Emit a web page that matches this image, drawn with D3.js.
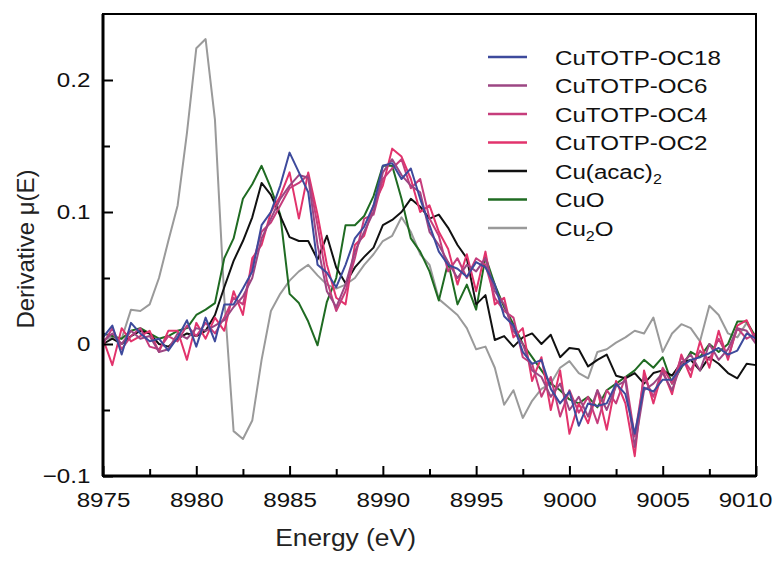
<!DOCTYPE html>
<html>
<head>
<meta charset="utf-8">
<script src="https://cdn.jsdelivr.net/npm/d3@7"></script>
<style>
  body { margin: 0; background: #fff; }
  svg { font-family: "Liberation Sans", Arial, sans-serif; }
  .axis path { display: none; }
  .axis line { stroke: #000; stroke-width: 2; }
  .axis text { font-size: 21px; fill: #111; }
  .axis-title { font-size: 24px; fill: #222; }
  .legend text { font-size: 21px; fill: #111; }
</style>
</head>
<body>
<svg id="chart"></svg>
<script>
// energy grid (eV), 0.5 eV step
const energy = d3.range(0, 71).map(i => 8975 + i * 0.5)

const cuTotpOc18 = [0.005, 0.014, -0.008, 0.016, 0.008, 0.002, 0.004, -0.005, 0.005, 0.018,
  -0.002, 0.02, 0.002, 0.03, 0.03, 0.042, 0.055, 0.09, 0.1, 0.12,
  0.145, 0.13, 0.115, 0.06, 0.054, 0.043, 0.06, 0.08, 0.089, 0.105,
  0.135, 0.137, 0.125, 0.133, 0.11, 0.09, 0.07, 0.06, 0.057, 0.051,
  0.062, 0.058, 0.045, 0.021, 0.014, -0.006, -0.015, -0.012, -0.034, -0.045,
  -0.036, -0.062, -0.045, -0.047, -0.045, -0.03, -0.038, -0.068, -0.033, -0.036,
  -0.027, -0.027, -0.017, -0.012, -0.01, -0.007, -0.003, -0.008, -0.005, 0.008, 0.004]

const cuTotpOc6 = [0.002, 0.008, 0.0, 0.01, 0.004, 0.006, -0.006, -0.004, 0.008, 0.004,
  0.012, 0.01, 0.014, 0.018, 0.028, 0.036, 0.05, 0.08, 0.095, 0.11,
  0.12, 0.128, 0.126, 0.075, 0.04, 0.028, 0.045, 0.07, 0.085, 0.1,
  0.13, 0.14, 0.128, 0.12, 0.115, 0.085, 0.075, 0.062, 0.05, 0.06,
  0.055, 0.065, 0.04, 0.03, 0.01, 0.0, -0.02, -0.025, -0.04, -0.03,
  -0.05, -0.04, -0.055, -0.035, -0.05, -0.032, -0.028, -0.078, -0.035, -0.03,
  -0.022, -0.035, -0.015, -0.008, -0.02, 0.0, -0.012, -0.004, 0.012, 0.01, 0.0]

const cuTotpOc4 = [0.0, 0.012, -0.004, 0.006, 0.012, -0.002, -0.004, 0.006, 0.002, 0.014,
  0.006, 0.016, 0.008, 0.02, 0.035, 0.03, 0.06, 0.085, 0.092, 0.105,
  0.118, 0.122, 0.128, 0.09, 0.048, 0.025, 0.04, 0.065, 0.095, 0.098,
  0.125, 0.133, 0.14, 0.118, 0.125, 0.095, 0.082, 0.055, 0.065, 0.05,
  0.065, 0.06, 0.035, 0.025, 0.02, -0.01, -0.015, -0.04, -0.025, -0.055,
  -0.035, -0.052, -0.04, -0.06, -0.035, -0.045, -0.025, -0.07, -0.025, -0.04,
  -0.018, -0.03, -0.01, -0.02, -0.005, -0.012, 0.004, -0.01, 0.012, 0.004, 0.008]

const cuTotpOc2 = [0.004, -0.016, 0.012, 0.002, 0.006, 0.01, -0.006, 0.01, 0.01, -0.012,
  0.016, 0.004, 0.02, 0.01, 0.04, 0.022, 0.065, 0.075, 0.1, 0.112,
  0.13, 0.095, 0.13, 0.098, 0.06, 0.035, 0.03, 0.075, 0.082, 0.105,
  0.12, 0.148, 0.142, 0.125, 0.1, 0.105, 0.085, 0.072, 0.045, 0.068,
  0.04, 0.07, 0.03, 0.035, 0.005, 0.012, -0.028, -0.01, -0.05, -0.02,
  -0.068, -0.045, -0.06, -0.035, -0.065, -0.028, -0.045, -0.085, -0.02, -0.045,
  -0.02, -0.038, -0.008, -0.025, 0.002, -0.018, 0.01, -0.012, 0.014, 0.018, 0.002]

const cuAcac2 = [0.0, 0.004, 0.0, 0.006, 0.01, 0.008, 0.0, -0.002, 0.004, 0.008,
  0.006, 0.01, 0.022, 0.043, 0.063, 0.078, 0.096, 0.122, 0.113, 0.097,
  0.081, 0.078, 0.078, 0.064, 0.082, 0.058, 0.046, 0.058, 0.066, 0.073,
  0.09, 0.094, 0.1, 0.11, 0.104, 0.095, 0.098, 0.088, 0.075, 0.065,
  0.03, 0.037, 0.003, 0.006, -0.002, 0.005, 0.008, 0.0, 0.007, -0.01,
  -0.003, -0.004, -0.017, -0.012, -0.008, -0.024, -0.026, -0.022, -0.03, -0.022,
  -0.02, -0.024, -0.014, -0.012, -0.02, -0.01, -0.015, -0.022, -0.026, -0.015, -0.016]

const cuO = [0.008, 0.006, 0.004, 0.01, 0.012, 0.008, 0.004, 0.006, 0.01, 0.012,
  0.022, 0.026, 0.031, 0.065, 0.08, 0.11, 0.121, 0.135, 0.118, 0.098,
  0.038, 0.031, 0.017, -0.001, 0.032, 0.05, 0.09, 0.09, 0.097, 0.112,
  0.135, 0.135, 0.11, 0.08, 0.07, 0.055, 0.033, 0.062, 0.03, 0.045,
  0.026, 0.066, 0.045, 0.028, 0.015, 0.0, -0.01, -0.02, -0.03, -0.035,
  -0.042, -0.045, -0.04, -0.048, -0.035, -0.03, -0.025, -0.02, -0.012, -0.018,
  -0.01, -0.03, -0.018, -0.006, -0.01, 0.0, -0.006, 0.0, 0.017, 0.017, 0.005]

const cu2O = [0.003, 0.005, 0.004, 0.026, 0.025, 0.03, 0.05, 0.078, 0.105, 0.16,
  0.224, 0.231, 0.17, 0.035, -0.066, -0.072, -0.058, -0.012, 0.025, 0.038,
  0.048, 0.055, 0.06, 0.052, 0.045, 0.042, 0.045, 0.05, 0.06, 0.068,
  0.078, 0.082, 0.096, 0.085, 0.068, 0.06, 0.034, 0.028, 0.022, 0.012,
  -0.004, -0.002, -0.018, -0.046, -0.035, -0.056, -0.043, -0.034, -0.03, -0.018,
  -0.013, -0.022, -0.026, -0.006, -0.004, 0.001, 0.005, 0.01, 0.008, 0.02,
  -0.006, 0.008, 0.015, 0.012, 0.002, 0.029, 0.022, 0.008, 0.005, 0.016, 0.004]

const seriesNames = ['CuTOTP-OC18', 'CuTOTP-OC6', 'CuTOTP-OC4', 'CuTOTP-OC2', 'Cu(acac)2', 'CuO', 'Cu2O']
const seriesValues = [cuTotpOc18, cuTotpOc6, cuTotpOc4, cuTotpOc2, cuAcac2, cuO, cu2O]
const seriesColors = ['#3d4a9c', '#9c4683', '#c63d7c', '#e2336c', '#111111', '#1f6b22', '#9a9a9a']

const xMajorTicks = [8975, 8980, 8985, 8990, 8995, 9000, 9005, 9010]
const xMinorTicks = [8977.5, 8982.5, 8987.5, 8992.5, 8997.5, 9002.5, 9007.5]
const yMajorTicks = [-0.1, 0, 0.1, 0.2]
const yMinorTicks = [-0.05, 0.05, 0.15]

class DerivativeChart {
  constructor(_config) {
    this.config = {
      parentElement: _config.parentElement,
      containerWidth: 778,
      containerHeight: 561,
      margin: { top: 14, right: 22, bottom: 85, left: 103 }
    }
    this.initVis()
  }

  initVis() {
    let vis = this
    vis.width = vis.config.containerWidth - vis.config.margin.left - vis.config.margin.right
    vis.height = vis.config.containerHeight - vis.config.margin.top - vis.config.margin.bottom

    vis.svg = d3.select(vis.config.parentElement)
      .attr('width', vis.config.containerWidth)
      .attr('height', vis.config.containerHeight)

    vis.chart = vis.svg.append('g')
      .attr('transform', `translate(${vis.config.margin.left}, ${vis.config.margin.top})`)

    vis.xScale = d3.scaleLinear().domain([8975, 9010]).range([0, vis.width])
    vis.yScale = d3.scaleLinear().domain([-0.1, 0.25]).range([vis.height, 0])

    vis.renderVis()
  }

  renderVis() {
    let vis = this
    const fmtY = d => d === 0 ? '0' : (d < 0 ? '\u2212' + Math.abs(d) : d)

    // lines, grey/green/black underneath the CuTOTP series
    const line = d3.line()
      .x((d, i) => vis.xScale(energy[i]))
      .y(d => vis.yScale(d))

    const order = [6, 5, 4, 3, 2, 1, 0]
    vis.chart.append('g').selectAll('.series')
      .data(order)
      .join('path')
        .attr('class', 'series')
        .attr('fill', 'none')
        .attr('stroke', i => seriesColors[i])
        .attr('stroke-width', 2)
        .attr('stroke-linejoin', 'round')
        .attr('d', i => line(seriesValues[i]))

    // frame
    vis.chart.append('rect')
      .attr('width', vis.width)
      .attr('height', vis.height)
      .attr('fill', 'none')
      .attr('stroke', '#000')
      .attr('stroke-width', 2)
    vis.chart.append('line')
      .attr('x1', 0).attr('x2', 0).attr('y1', 0).attr('y2', vis.height)
      .attr('stroke', '#000').attr('stroke-width', 3)
    vis.chart.append('line')
      .attr('x1', 0).attr('x2', vis.width).attr('y1', vis.height).attr('y2', vis.height)
      .attr('stroke', '#000').attr('stroke-width', 3)

    // axes, ticks pointing inward
    vis.chart.append('g')
      .attr('class', 'axis x-axis')
      .attr('transform', `translate(0, ${vis.height})`)
      .call(d3.axisBottom(vis.xScale).tickValues(xMajorTicks).tickSize(-10).tickPadding(16).tickFormat(d3.format('d')))
      .selectAll('text')
        .attr('transform', d => d === 9010 ? 'translate(-11,0) scale(1.15,1)' : 'scale(1.15,1)')

    vis.chart.append('g')
      .attr('class', 'axis x-axis')
      .attr('transform', `translate(0, ${vis.height})`)
      .call(d3.axisBottom(vis.xScale).tickValues(xMinorTicks).tickSize(-7).tickFormat(''))

    vis.chart.append('g')
      .attr('class', 'axis y-axis')
      .call(d3.axisLeft(vis.yScale).tickValues(yMajorTicks).tickSize(-10).tickPadding(11).tickFormat(fmtY))
      .selectAll('text').attr('transform', 'scale(1.15,1)')

    vis.chart.append('g')
      .attr('class', 'axis y-axis')
      .call(d3.axisLeft(vis.yScale).tickValues(yMinorTicks).tickSize(-7).tickFormat(''))

    // axis titles
    vis.svg.append('text')
      .attr('class', 'axis-title')
      .attr('text-anchor', 'middle')
      .attr('transform', `translate(${vis.config.margin.left + vis.xScale(8988)}, 546) scale(1.1,1)`)
      .text('Energy (eV)')

    vis.svg.append('text')
      .attr('class', 'axis-title')
      .attr('text-anchor', 'middle')
      .attr('transform', 'translate(34, 249) rotate(-90)')
      .text('Derivative \u03bc(E)')

    // legend
    const legend = vis.chart.append('g')
      .attr('class', 'legend')
      .attr('transform', 'translate(385, 43)')

    const rows = legend.selectAll('.row')
      .data(seriesNames)
      .join('g')
        .attr('class', 'row')
        .attr('transform', (d, i) => `translate(0, ${i * 28.5})`)

    rows.append('line')
      .attr('x1', 0).attr('x2', 39)
      .attr('stroke', (d, i) => seriesColors[i])
      .attr('stroke-width', 2.5)

    rows.append('text')
      .attr('transform', 'translate(67, 7.5) scale(1.15,1)')
      .each(function (d) {
        const t = d3.select(this)
        const m = d.match(/^(Cu\(acac\)|Cu)(2)(O?)$/)
        if (m) {
          t.append('tspan').text(m[1])
          t.append('tspan').attr('font-size', '14px').attr('dy', 5).text(m[2])
          if (m[3]) t.append('tspan').attr('dy', -5).text(m[3])
        } else {
          t.text(d)
        }
      })
  }
}

new DerivativeChart({ parentElement: '#chart' })
</script>
</body>
</html>
